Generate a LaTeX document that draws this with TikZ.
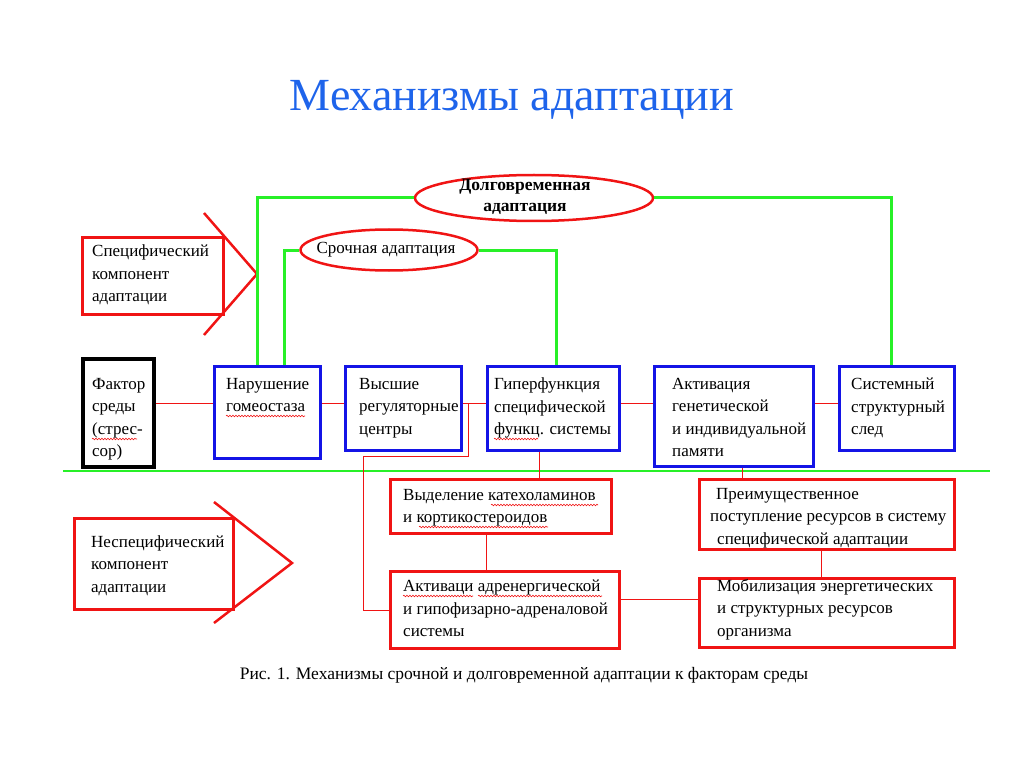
\documentclass[tikz,border=0pt]{standalone}
\usepackage{fontspec}
\setmainfont{Liberation Serif}
\usetikzlibrary{shapes.geometric, decorations.pathmorphing}

\begin{document}
\begin{tikzpicture}[x=1pt, y=-1pt,
    font=\fontsize{17}{22.5}\selectfont,
    kasten/.style={draw, line width=3, anchor=north west, inner sep=0},
    blaukasten/.style={kasten, draw=blau},
    rotkasten/.style={kasten, draw=rot},
    txt/.style={anchor=north west, align=left, inner sep=0},
    oval/.style={ellipse, draw=rot, line width=2.5, inner sep=0},
    gruenlinie/.style={draw=gruen, line width=3},
    duenn/.style={draw=rot, line width=1},
    pfeil/.style={draw=rot, line width=2.5},
    welle/.style={draw=rot, line width=0.6, decorate, decoration={snake, segment length=3pt, amplitude=0.8pt}}]

    % Farben
    \definecolor{rot}{RGB}{240,20,20}
    \definecolor{blau}{RGB}{20,20,230}
    \definecolor{gruen}{RGB}{40,240,40}
    \definecolor{titelblau}{RGB}{30,100,235}

    \useasboundingbox (0,0) rectangle (1024,767);

    % Titel
    \node[font=\fontsize{46}{52}\selectfont, text=titelblau] (titel) at (512,100) {Механизмы адаптации};

    % Spezifische Komponente (Pfeil)
    \node[rotkasten, minimum width=141, minimum height=77] (spez) at (81,236) {};
    \node[txt] (spez-t) at (92,245) {Специфический\\компонент\\адаптации};
    \draw[pfeil] (204,213) -- (257,274) -- (204,335);

    % Unspezifische Komponente (Pfeil)
    \node[rotkasten, minimum width=159, minimum height=91] (unspez) at (73,517) {};
    \node[txt] (unspez-t) at (91,535) {Неспецифический\\компонент\\адаптации};
    \draw[pfeil] (214,502) -- (292,563) -- (214,623);

    % Faktor
    \node[kasten, line width=3.5, minimum width=71, minimum height=108] (faktor) at (81,357) {};
    \node[txt] (faktor-t) at (92,378) {Фактор\\среды\\(стрес-\\сор)};

    % obere Reihe
    \node[blaukasten, minimum width=106, minimum height=92] (nar) at (213,365) {};
    \node[txt] (nar-t) at (226,378) {Нарушение\\гомеостаза};
    \node[blaukasten, minimum width=116, minimum height=84] (hoch) at (344,365) {};
    \node[txt] (hoch-t) at (359,378) {Высшие\\регуляторные\\центры};
    \node[blaukasten, minimum width=132, minimum height=84] (hyper) at (486,365) {};
    \node[txt] (hyper-t) at (494,378) {Гиперфункция\\специфической\\функц. системы};
    \node[blaukasten, minimum width=159, minimum height=100] (gen) at (653,365) {};
    \node[txt] (gen-t) at (672,378) {Активация\\генетической\\и индивидуальной\\памяти};
    \node[blaukasten, minimum width=115, minimum height=84] (spur) at (838,365) {};
    \node[txt] (spur-t) at (851,378) {Системный\\структурный\\след};

    % untere Kästen
    \node[rotkasten, minimum width=221, minimum height=54] (kat) at (389,478) {};
    \node[txt] (kat-t) at (403,489) {Выделение катехоламинов\\и кортикостероидов};
    \node[rotkasten, minimum width=229, minimum height=77] (adr) at (389,570) {};
    \node[txt] (adr-t) at (403,580) {Активаци адренергической\\и гипофизарно-адреналовой\\системы};
    \node[rotkasten, minimum width=255, minimum height=70] (res) at (698,478) {};
    \node[txt] (res-t) at (710,488) {\hspace*{6pt}Преимущественное\\поступление ресурсов в систему\\\hspace*{7pt}специфической адаптации};
    \node[rotkasten, minimum width=255, minimum height=69] (mob) at (698,577) {};
    \node[txt] (mob-t) at (717,579) {Мобилизация энергетических\\и структурных ресурсов\\организма};

    % Ovale
    \node[oval, minimum width=238, minimum height=46] (lang) at (534,198) {};
    \node[align=center, inner sep=0, font=\fontsize{17.5}{21}\selectfont\bfseries] (lang-t) at (525,197) {Долговременная\\адаптация};
    \node[oval, minimum width=177, minimum height=41] (dring) at (389,250) {};
    \node[inner sep=0] (dring-t) at (386,250) {Срочная адаптация};

    % Rechtschreib-Wellen
    \draw[welle] (226,416) -- (305,416);
    \draw[welle] (92,439) -- (137,439);
    \draw[welle] (494,439) -- (538,439);
    \draw[welle] (491,505) -- (598,505);
    \draw[welle] (419,527) -- (548,527);
    \draw[welle] (403,596) -- (473,596);
    \draw[welle] (478,596) -- (602,596);

    % Hilfspunkte
    \coordinate (g1) at (257,0);
    \coordinate (g2) at (284,0);
    \coordinate (g3) at (556,0);
    \coordinate (g4) at (891,0);
    \coordinate (ly) at (0,403);
    \coordinate (k1) at (468,403);
    \coordinate (k2) at (363,456);
    \coordinate (v1) at (539,0);
    \coordinate (v2) at (486,0);
    \coordinate (v3) at (742,0);
    \coordinate (v4) at (821,0);
    \coordinate (lm) at (0,599);

    % grüne Verbindungen
    \draw[gruenlinie] (nar.north -| g1) |- (lang.west);
    \draw[gruenlinie] (lang.east) -| (spur.north -| g4);
    \draw[gruenlinie] (nar.north -| g2) |- (dring.west);
    \draw[gruenlinie] (dring.east) -| (hyper.north -| g3);
    \draw[draw=gruen, line width=1.3] (63,471) -- (990,471);

    % rote Verbindungen
    \draw[duenn] (faktor.east |- ly) -- (nar.west |- ly);
    \draw[duenn] (nar.east |- ly) -- (hoch.west |- ly);
    \draw[duenn] (hoch.east |- ly) -- (hyper.west |- ly);
    \draw[duenn] (hyper.east |- ly) -- (gen.west |- ly);
    \draw[duenn] (gen.east |- ly) -- (spur.west |- ly);
    \draw[duenn] (k1) |- (k2) |- (adr.west);
    \draw[duenn] (hyper.south -| v1) -- (kat.north -| v1);
    \draw[duenn] (kat.south -| v2) -- (adr.north -| v2);
    \draw[duenn] (gen.south -| v3) -- (res.north -| v3);
    \draw[duenn] (res.south -| v4) -- (mob.north -| v4);
    \draw[duenn] (adr.east |- lm) -- (mob.west |- lm);

    % Bildunterschrift
    \node[font=\fontsize{17.5}{21}\selectfont] (unter) at (524,675) {Рис. 1. Механизмы срочной и долговременной адаптации к факторам среды};

\end{tikzpicture}
\end{document}
